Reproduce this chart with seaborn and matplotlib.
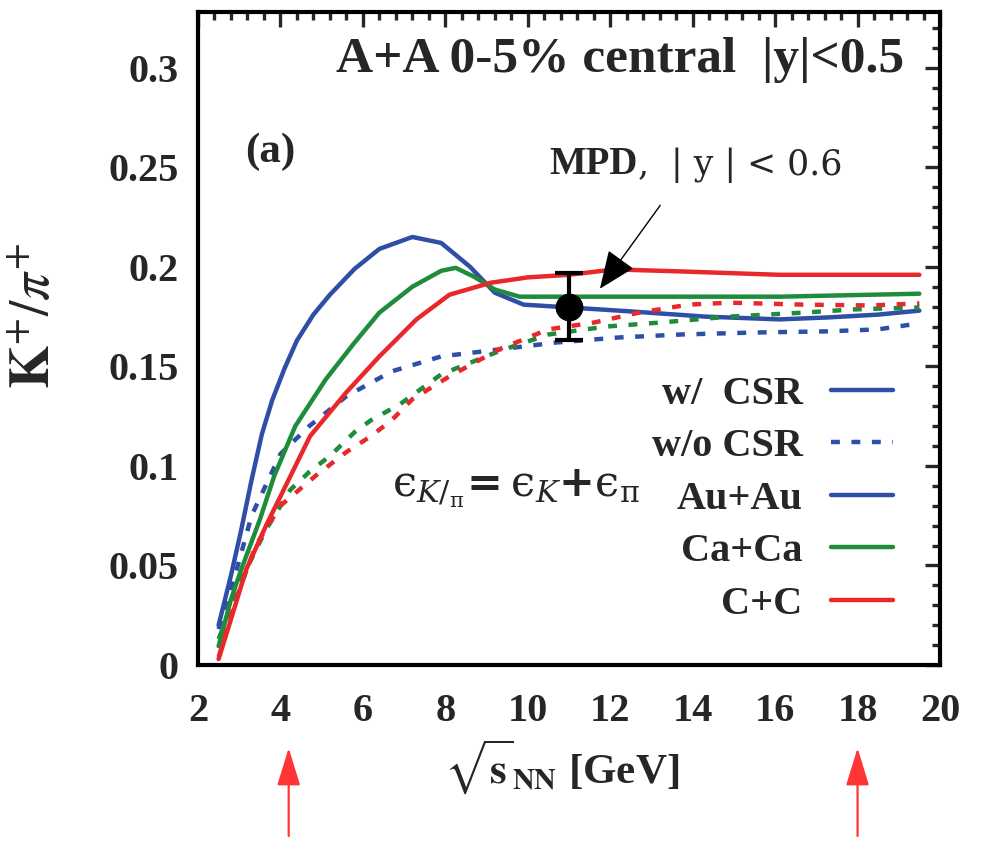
import numpy as np
import pandas as pd
import matplotlib
matplotlib.use("Agg")
import matplotlib.pyplot as plt
from matplotlib.lines import Line2D
from matplotlib.ticker import MultipleLocator
import seaborn as sns

# ---------------- data ----------------
au_csr_x = [2.5, 2.8, 3.05, 3.3, 3.55, 3.8, 4.1, 4.4, 4.8, 5.2, 5.8, 6.4, 7.2, 7.9, 8.6, 9.2, 9.9, 11.0, 12.5, 14.3, 16.1, 17.3, 18.5, 19.5]
au_csr_y = [0.020, 0.045, 0.068, 0.093, 0.116, 0.133, 0.149, 0.163, 0.176, 0.186, 0.199, 0.209, 0.215, 0.212, 0.200, 0.187, 0.181, 0.1796, 0.1776, 0.175, 0.1736, 0.1746, 0.176, 0.178]

ca_csr_x = [2.5, 2.8, 3.05, 3.5, 3.85, 4.36, 5.1, 5.8, 6.4, 7.2, 7.9, 8.25, 8.7, 9.2, 9.8, 11.3, 13.7, 16.1, 19.5]
ca_csr_y = [0.0095, 0.033, 0.048, 0.073, 0.095, 0.120, 0.1435, 0.162, 0.177, 0.190, 0.198, 0.1995, 0.195, 0.1886, 0.185, 0.185, 0.185, 0.185, 0.1865]

c_csr_x = [2.5, 2.8, 3.17, 3.65, 4.15, 4.72, 5.6, 6.4, 7.3, 8.1, 9.1, 10.0, 11.0, 12.1, 13.7, 16.1, 19.5]
c_csr_y = [0.003, 0.023, 0.048, 0.070, 0.091, 0.115, 0.137, 0.155, 0.1736, 0.186, 0.192, 0.1947, 0.196, 0.1987, 0.1977, 0.196, 0.196]

au_nocsr_x = [2.5, 2.9, 3.3, 4.0, 4.7, 5.6, 6.7, 7.9, 9.3, 10.7, 12.2, 13.7, 15.5, 17.3, 18.5, 19.5]
au_nocsr_y = [0.018, 0.045, 0.075, 0.106, 0.120, 0.135, 0.1475, 0.155, 0.1585, 0.162, 0.1645, 0.166, 0.167, 0.1676, 0.1686, 0.1716]

ca_nocsr_x = [2.5, 3.05, 3.65, 4.24, 4.7, 5.2, 5.8, 6.2, 6.9, 7.9, 9.3, 10.5, 11.9, 13.2, 14.9, 16.7, 17.9, 19.5]
ca_nocsr_y = [0.013, 0.043, 0.068, 0.088, 0.097, 0.105, 0.117, 0.123, 0.131, 0.146, 0.1576, 0.166, 0.170, 0.172, 0.175, 0.177, 0.1786, 0.1796]

c_nocsr_x = [2.5, 2.92, 3.4, 4.0, 4.85, 5.6, 6.2, 6.7, 7.2, 8.1, 9.3, 10.5, 11.6, 12.7, 13.9, 14.9, 16.7, 18.3, 19.5]
c_nocsr_y = [0.004, 0.033, 0.060, 0.080, 0.095, 0.107, 0.115, 0.123, 0.1335, 0.145, 0.1585, 0.1686, 0.172, 0.177, 0.181, 0.182, 0.181, 0.1806, 0.1816]

mpd_x = [11.0]
mpd_y = [0.180]
mpd_lo = [0.163]
mpd_hi = [0.197]

xticks = [2, 4, 6, 8, 10, 12, 14, 16, 18, 20]
yticks = [0, 0.05, 0.1, 0.15, 0.2, 0.25, 0.3]
ytick_labels = ["0", "0.05", "0.1", "0.15", "0.2", "0.25", "0.3"]
arrow_x = [4.2, 18.0]

systems = ["Au+Au", "Ca+Ca", "C+C"]
colors = {"Au+Au": "#2f4ea6", "Ca+Ca": "#1f8c3b", "C+C": "#e8282b"}

frames = []
for sysname, (xs, ys), (xn, yn) in zip(
        systems,
        [(au_csr_x, au_csr_y), (ca_csr_x, ca_csr_y), (c_csr_x, c_csr_y)],
        [(au_nocsr_x, au_nocsr_y), (ca_nocsr_x, ca_nocsr_y), (c_nocsr_x, c_nocsr_y)]):
    frames.append(pd.DataFrame({"x": xs, "y": ys, "system": sysname, "csr": "w/ CSR"}))
    frames.append(pd.DataFrame({"x": xn, "y": yn, "system": sysname, "csr": "w/o CSR"}))
df = pd.concat(frames, ignore_index=True)

# ---------------- style ----------------
sns.set_style("white")
plt.rcParams["font.family"] = ["Liberation Serif", "DejaVu Serif"]
plt.rcParams["mathtext.fontset"] = "stix"

fig = plt.figure(figsize=(9.81, 8.43), dpi=100)
ax = fig.add_axes([198 / 981, 1 - 665 / 843, 742 / 981, 653 / 843])

LW = 3.2
DASH = (2.0, 2.6)
sns.lineplot(data=df, x="x", y="y", hue="system", style="csr",
             palette=colors, hue_order=systems,
             dashes={"w/ CSR": "", "w/o CSR": DASH},
             style_order=["w/ CSR", "w/o CSR"],
             estimator=None, sort=False, legend=False, lw=LW, ax=ax)

# MPD point
ax.errorbar(mpd_x, mpd_y,
            yerr=[np.array(mpd_y) - np.array(mpd_lo), np.array(mpd_hi) - np.array(mpd_y)],
            fmt="o", color="black", ms=19, elinewidth=3, capsize=10, capthick=3, zorder=5)

ax.set_xlim(2, 20)
ax.set_ylim(0, 0.328)
ax.set_xticks(xticks)
ax.set_yticks(yticks)
ax.set_yticklabels(ytick_labels)
ax.xaxis.set_minor_locator(MultipleLocator(0.4))
ax.yaxis.set_minor_locator(MultipleLocator(0.01))
ax.tick_params(which="both", direction="in", top=True, right=True, width=2.4)
ax.tick_params(which="major", length=11, labelsize=29)
ax.tick_params(axis="y", which="major", pad=14)
ax.tick_params(axis="x", which="major", pad=20)
ax.tick_params(which="minor", length=5.5)
for lab in ax.get_xticklabels() + ax.get_yticklabels():
    lab.set_fontweight("bold")
for sp in ax.spines.values():
    sp.set_linewidth(3)
    sp.set_color("black")

ax.set_xlabel(r"$\sqrt{\mathbf{s}}_{\mathbf{NN}}$ [GeV]", fontsize=31, fontweight="bold")
ax.xaxis.set_label_coords(0.49, (665 - 737) / 653)
ax.set_ylabel(r"$\mathbf{K}^{+}/\pi^{+}$", fontsize=40)
ax.yaxis.set_label_coords((62 - 198) / 742, 0.535)

# texts
ax.text(0.951, 0.926, "A+A 0-5% central  |y|<0.5", transform=ax.transAxes,
        ha="right", va="center", fontsize=37, fontweight="bold")
ax.text(0.063, 0.786, "(a)", transform=ax.transAxes, ha="left", va="center",
        fontsize=31, fontweight="bold")
t1 = ax.text(0.474, 0.766, "MPD", transform=ax.transAxes, ha="left", va="center",
             fontsize=28, fontweight="bold")
ax.annotate(",  | y | < 0.6", xy=(1, 0), xycoords=t1, xytext=(0, 0), textcoords="offset points",
            ha="left", va="bottom", fontsize=25, family="DejaVu Serif")
ax.text(0.262, 0.27,
        r"$\mathrm{ϵ}_{K/_{\mathrm{\pi}}}\!\mathbf{=}\mathrm{ϵ}_{K}\mathbf{+}\mathrm{ϵ}_{\mathrm{\pi}}$",
        transform=ax.transAxes, ha="left", va="center", fontsize=31,
        math_fontfamily="dejavuserif")

# MPD arrow
ax.annotate("", xy=(11.75, 0.189), xycoords="data", xytext=(0.623, 0.704), textcoords="axes fraction",
            arrowprops=dict(arrowstyle="-|>,head_length=1.2,head_width=0.5", mutation_scale=20,
                            lw=1.0, color="black", shrinkA=0, shrinkB=0))

# red arrows below the axis
for xa in arrow_x:
    ax.annotate("", xy=(xa, 1 - 748 / 843), xycoords=("data", "figure fraction"),
                xytext=(xa, 1 - 836 / 843), textcoords=("data", "figure fraction"),
                arrowprops=dict(arrowstyle="-|>,head_length=1.3,head_width=0.4", mutation_scale=18,
                                lw=1.6, color="#ff3535", shrinkA=0, shrinkB=0),
                annotation_clip=False)

# legend
handles = [
    Line2D([], [], color=colors["Au+Au"], lw=LW, label="w/  CSR"),
    Line2D([], [], color=colors["Au+Au"], lw=LW, dashes=DASH, label="w/o CSR"),
    Line2D([], [], color=colors["Au+Au"], lw=LW, label="Au+Au"),
    Line2D([], [], color=colors["Ca+Ca"], lw=LW, label="Ca+Ca"),
    Line2D([], [], color=colors["C+C"], lw=LW, label="C+C"),
]
leg = ax.legend(handles=handles, loc="upper right", bbox_to_anchor=(0.937, 0.443),
                frameon=False, markerfirst=False, borderpad=0, borderaxespad=0,
                handlelength=1.55, handletextpad=0.7, labelspacing=0.38,
                prop={"family": "Liberation Serif", "weight": "bold", "size": 29})

fig.savefig("out.png", dpi=100)
